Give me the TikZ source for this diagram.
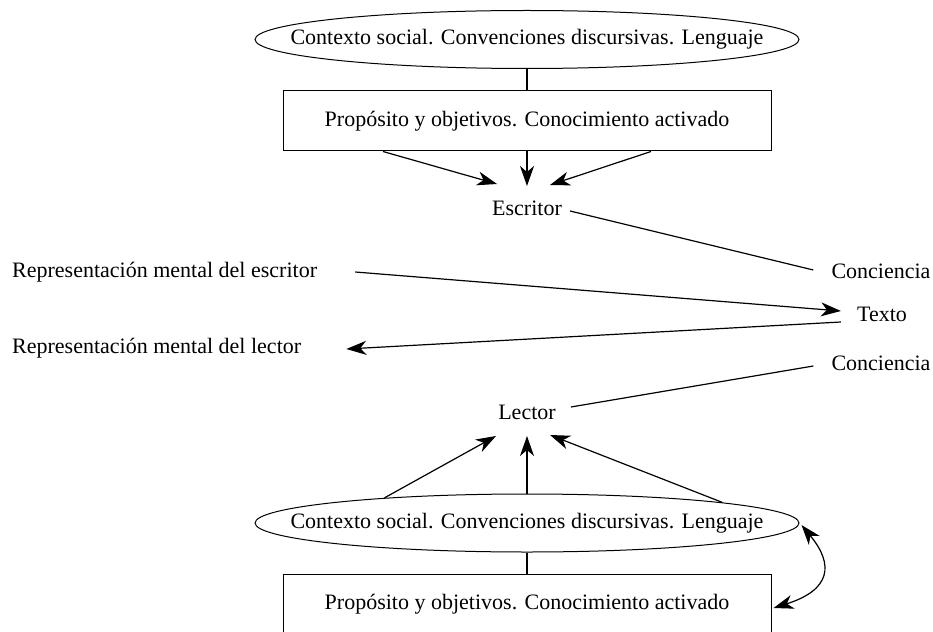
\documentclass[tikz,border=0pt]{standalone}
\usepackage{fontspec}
\setmainfont{Liberation Serif}
\usetikzlibrary{arrows.meta,calc,shapes.geometric}
\begin{document}
\begin{tikzpicture}[x=1pt,y=-1pt,
  txt/.style={font=\fontsize{22}{26}\selectfont, inner sep=0pt},
  ell/.style={draw, ellipse, line width=1pt, inner sep=0pt, minimum width=544pt, minimum height=58pt},
  box/.style={draw, rectangle, line width=1pt, inner sep=0pt, minimum width=488pt, minimum height=60pt},
  ln/.style={line width=1.2pt},
  arr/.style={line width=1.2pt, -{Stealth[length=20pt,width=14pt,inset=6pt]}},
  darr/.style={line width=1.2pt, {Stealth[length=20pt,width=14pt,inset=6pt]}-{Stealth[length=20pt,width=14pt,inset=6pt]}}
]
\useasboundingbox (0,0) rectangle (933,631);

% top group
\node[ell] (e1) at (527,39.5) {};
\node[txt] (e1t) at (e1.center) {Contexto social. Convenciones discursivas. Lenguaje};
\node[box] (b1) at (527,121) {};
\node[txt] (b1t) at (b1.center) {Propósito y objetivos. Conocimiento activado};
\draw[ln] (e1.south) -- (b1.north);

\node[txt] (esc) at (527,208) {Escritor};
\draw[arr] ($(b1.south)+(-144,0)$) -- ($(esc)+(-30,-24)$);
\draw[arr] (b1.south) -- ($(esc)+(0,-22)$);
\draw[arr] ($(b1.south)+(124,0)$) -- ($(esc)+(23,-23)$);

% middle
\node[txt] (conc1) at (881,271) {Conciencia};
\node[txt] (texto) at (882,314) {Texto};
\node[txt] (conc2) at (881,363) {Conciencia};
\node[txt, anchor=west] (rep1) at (12,272) {Representación mental del escritor};
\node[txt, anchor=west] (rep2) at (12,348) {Representación mental del lector};

\draw[ln] ($(esc.east)+(8,3)$) -- ($(conc1.west)+(-18,-1)$);
\draw[arr] ($(rep1.east)+(38,0)$) -- ($(texto.west)+(-16,-3)$);
\draw[arr] ($(texto.west)+(-16,8)$) -- ($(rep2.east)+(45,1)$);

\node[txt] (lec) at (527,412) {Lector};
\draw[ln] ($(conc2.west)+(-18,3)$) -- ($(lec.east)+(15,-5)$);

% bottom group
\node[ell] (e2) at (527,523) {};
\node[txt] (e2t) at (e2.center) {Contexto social. Convenciones discursivas. Lenguaje};
\node[box] (b2) at (527,604) {};
\node[txt] (b2t) at (b2.center) {Propósito y objetivos. Conocimiento activado};
\draw[ln] (e2.south) -- (b2.north);

\draw[arr] (e2.170) -- ($(lec)+(-31,24)$);
\draw[arr] (e2.north) -- ($(lec)+(0,24)$);
\draw[arr] (e2.6) -- ($(lec)+(23,23)$);

\draw[darr] ($(e2.east)+(2,2)$) .. controls ($(e2.east)+(35,42)$) and ($(b2.east)+(59,-14)$) .. ($(b2.east)+(2,4)$);
\end{tikzpicture}
\end{document}
